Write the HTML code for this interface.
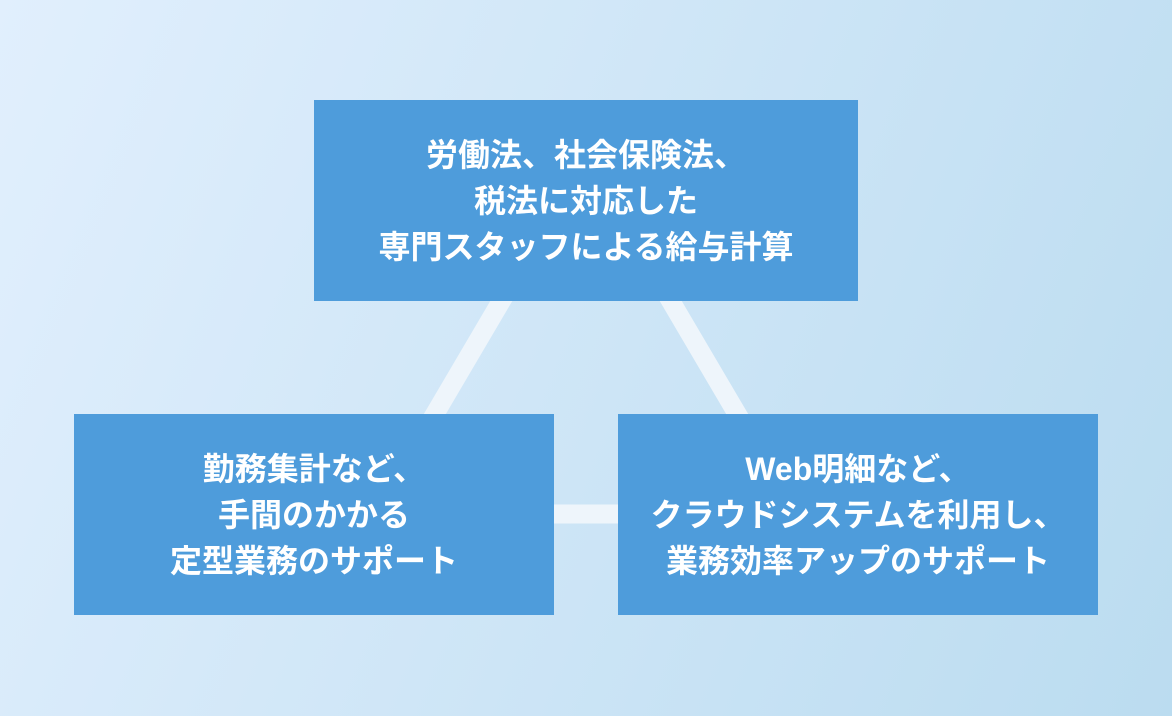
<!DOCTYPE html>
<html>
<head>
<meta charset="utf-8">
<style>
html,body{margin:0;padding:0;}
body{width:1172px;height:716px;overflow:hidden;position:relative;
background:linear-gradient(112deg,#e1effd 0%,#bbdcf0 100%);
font-family:"Liberation Sans","Noto Sans CJK JP",sans-serif;}
svg.lines{position:absolute;left:0;top:0;}
.box{position:absolute;background:#4e9cdb;color:#fff;font-weight:bold;font-size:32px;line-height:46px;
display:flex;align-items:center;justify-content:center;text-align:center;white-space:nowrap;}
.box div{font-family:"Liberation Sans","Noto Sans CJK JP",sans-serif;}
</style>
</head>
<body>
<svg class="lines" width="1172" height="716">
<polygon points="586,157 376,514 796,514" fill="none" stroke="#eef5fb" stroke-width="19"/>
</svg>
<div class="box" style="left:314px;top:100px;width:544px;height:201px;">
<div>労働法、社会保険法、<br>税法に対応した<br>専門スタッフによる給与計算</div>
</div>
<div class="box" style="left:74px;top:414px;width:480px;height:201px;">
<div>勤務集計など、<br>手間のかかる<br>定型業務のサポート</div>
</div>
<div class="box" style="left:618px;top:414px;width:480px;height:201px;">
<div>Web明細など、<br>クラウドシステムを利用し、<br>業務効率アップのサポート</div>
</div>
</body>
</html>
